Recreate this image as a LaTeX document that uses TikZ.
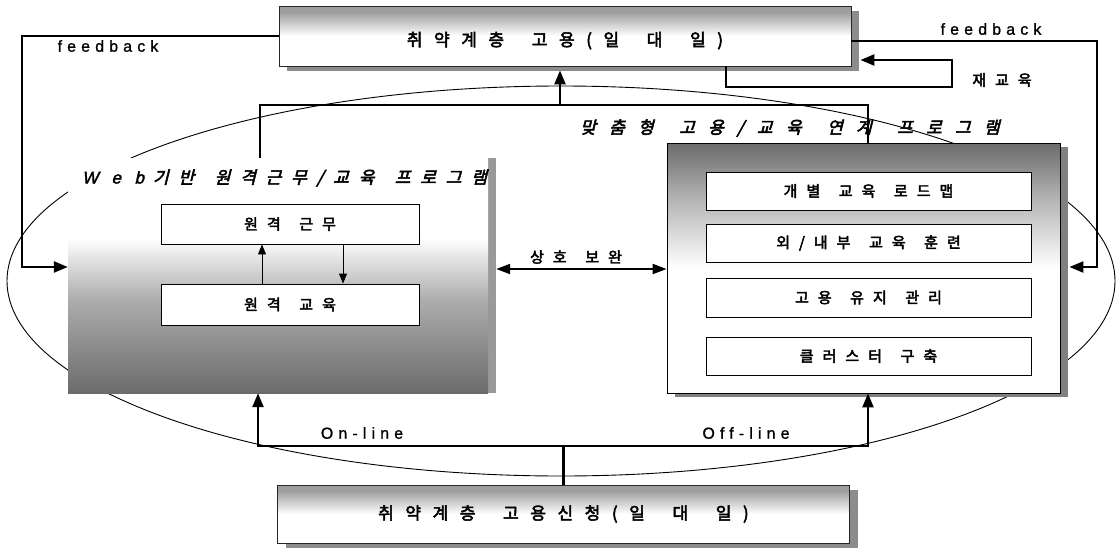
\documentclass[tikz,border=0pt]{standalone}
\usepackage{fontspec}
\usetikzlibrary{arrows.meta,shadows}
\newfontfamily\krbox[FakeBold=3,LetterSpace=60,WordSpace=1.5]{Noto Sans CJK KR}
\newfontfamily\krbar[FakeBold=3,LetterSpace=68,WordSpace=1.8]{Noto Sans CJK KR}
\newfontfamily\krtitle[FakeSlant=0.25,FakeBold=3,LetterSpace=58,WordSpace=1.5]{Noto Sans CJK KR}
\newfontfamily\krtitleb[FakeSlant=0.25,FakeBold=3,LetterSpace=78,WordSpace=1.5]{Noto Sans CJK KR}
\newfontfamily\latsp[FakeBold=1,LetterSpace=32]{Liberation Sans}
\newfontfamily\latit[FakeSlant=0.22,FakeBold=2,LetterSpace=80]{Liberation Sans}
\pgfdeclareverticalshading{barshade}{100bp}{color(0bp)=(white); color(50bp)=(white); color(70bp)=(black!38); color(100bp)=(black!38)}
\pgfdeclareverticalshading{webshade}{100bp}{color(0bp)=(black!58); color(25bp)=(black!58); color(45bp)=(black!32); color(58bp)=(white); color(100bp)=(white)}
\pgfdeclareverticalshading{rshade}{100bp}{color(0bp)=(white); color(50bp)=(white); color(64bp)=(black!30); color(75bp)=(black!58); color(100bp)=(black!58)}
\tikzset{
  conn/.style={line width=2.3pt, line join=miter},
  arr/.style={-{Triangle[length=14pt,width=11pt]}},
  thinarr/.style={line width=0.9pt, -{Triangle[length=10pt,width=8pt]}},
  bar/.style={draw=black!85, line width=0.8pt, shading=barshade, minimum width=572pt, minimum height=60pt, inner sep=0pt,
    general shadow={fill=black!45, shadow xshift=8pt, shadow yshift=-5pt}},
  ibox/.style={draw=black, line width=0.9pt, fill=white, inner sep=0pt},
  krtext/.style={font=\fontsize{15}{15}\selectfont\krbox},
  bartext/.style={font=\fontsize{17}{17}\selectfont\krbar},
  lattext/.style={font=\fontsize{16}{16}\selectfont\latsp},
}
\begin{document}
\begin{tikzpicture}[x=1pt,y=-1pt]
\useasboundingbox[fill=white] (0,0) rectangle (1116,549);
% big ellipse (behind the blocks)
\draw[line width=0.9pt] (561,281) ellipse [x radius=554pt, y radius=195pt];
% main blocks
\node[bar, bartext, text height=20pt, text depth=0pt] (top) at (565,36) {취약계층 고용(일 대 일)};
\node[bar, bartext, minimum height=58pt] (bot) at (563.5,514) {취약계층 고용신청(일 대 일)};
\node[shading=webshade, minimum width=420pt, minimum height=235pt, inner sep=0pt,
  general shadow={fill=black!40, shadow xshift=8pt, shadow yshift=0pt}] (web) at (278,275.5) {};
\node[draw=black, line width=0.8pt, shading=rshade, minimum width=393pt, minimum height=250pt, inner sep=0pt,
  general shadow={fill=black!50, shadow xshift=8pt, shadow yshift=-4pt}] (rbox) at (863.5,268) {};
% inner boxes
\node[ibox, krtext, minimum width=258pt, minimum height=40pt] (g1) at (290,224) {원격 근무};
\node[ibox, krtext, minimum width=258pt, minimum height=41pt] (g2) at (290,304.5) {원격 교육};
\node[ibox, krtext, minimum width=325pt, minimum height=38pt] (b1) at (868.5,191) {개별 교육 로드맵};
\node[ibox, krtext, minimum width=325pt, minimum height=38pt] (b2) at (868.5,243) {외/내부 교육 훈련};
\node[ibox, krtext, minimum width=325pt, minimum height=39pt] (b3) at (868.5,297.5) {고용 유지 관리};
\node[ibox, krtext, minimum width=325pt, minimum height=38pt] (b4) at (868.5,356) {클러스터 구축};
% titles
\node[anchor=west, inner sep=0pt] (webtitle) at (82,178) {\fontsize{17}{17}\selectfont{\latit Web}\hspace{9pt}{\krtitle 기반 원격근무/교육 프로그램}};
\node[anchor=west, inner sep=0pt, font=\fontsize{17}{17}\selectfont\krtitleb] (rtitle) at (580,128) {맞춤형 고용/교육 연계 프로그램};
% labels
\node[lattext] (fbl) at (108,46) {feedback};
\node[lattext] (fbr) at (991,29) {feedback};
\node[krtext] (relabel) at (1002,80) {재교육};
\node[krtext] (sblabel) at (576,257) {상호 보완};
\node[lattext] (online) at (362,433) {On-line};
\node[lattext] (offline) at (746,433) {Off-line};
% coordinates for connectors
\coordinate (fbL) at (22,267);
\coordinate (fbR) at (1097,267);
\coordinate (topE) at ([yshift=-5pt]top.east);
\coordinate (rboxE) at ([xshift=9pt]rbox.east);
\coordinate (topEs) at ([xshift=9pt]top.east);
\coordinate (topS) at ([yshift=-4pt]top.south);
\coordinate (re1) at (726,87);
\coordinate (re2) at (952,87);
\coordinate (re3) at (952,60);
\coordinate (jL) at (260,105);
\coordinate (jR) at (868,105);
\coordinate (jC) at (560,105);
\coordinate (bL) at (258,446);
\coordinate (bR) at (868,446);
\coordinate (sb) at (580,269);
\coordinate (webE) at ([xshift=8pt]web.east);
\coordinate (ua) at (262,0);
\coordinate (da) at (343,0);
% feedback loops
\draw[conn,arr] (top.west) -| (fbL) -- (fbL -| web.west);
\draw[conn,arr] (topE) -| (fbR) -- (fbR -| rboxE);
% re-education loop
\draw[conn,arr] (re1 |- top.south) -- (re1) -- (re2) -- (re3) -- (re3 -| topEs);
% programs up to employment
\draw[conn] (jL |- web.north) -- (jL) -- (jR) -- (jR |- rbox.north);
\draw[conn,arr] (jC) -- (jC |- topS);
% application down to programs
\draw[conn] (bot.north) -- (bot.north |- bL);
\draw[conn,arr] (bot.north |- bL) -- (bL) -- (bL |- web.south);
\draw[conn,arr] (bot.north |- bL) -- (bR) -- (bR |- rbox.south);
% mutual complement
\draw[line width=2pt, {Triangle[length=14pt,width=10pt]}-{Triangle[length=14pt,width=10pt]}] (sb -| webE) -- (sb -| rbox.west);
% remote work <-> remote education
\draw[thinarr] (ua |- g2.north) -- (ua |- g1.south);
\draw[thinarr] (da |- g1.south) -- (da |- g2.north);
\end{tikzpicture}
\end{document}
